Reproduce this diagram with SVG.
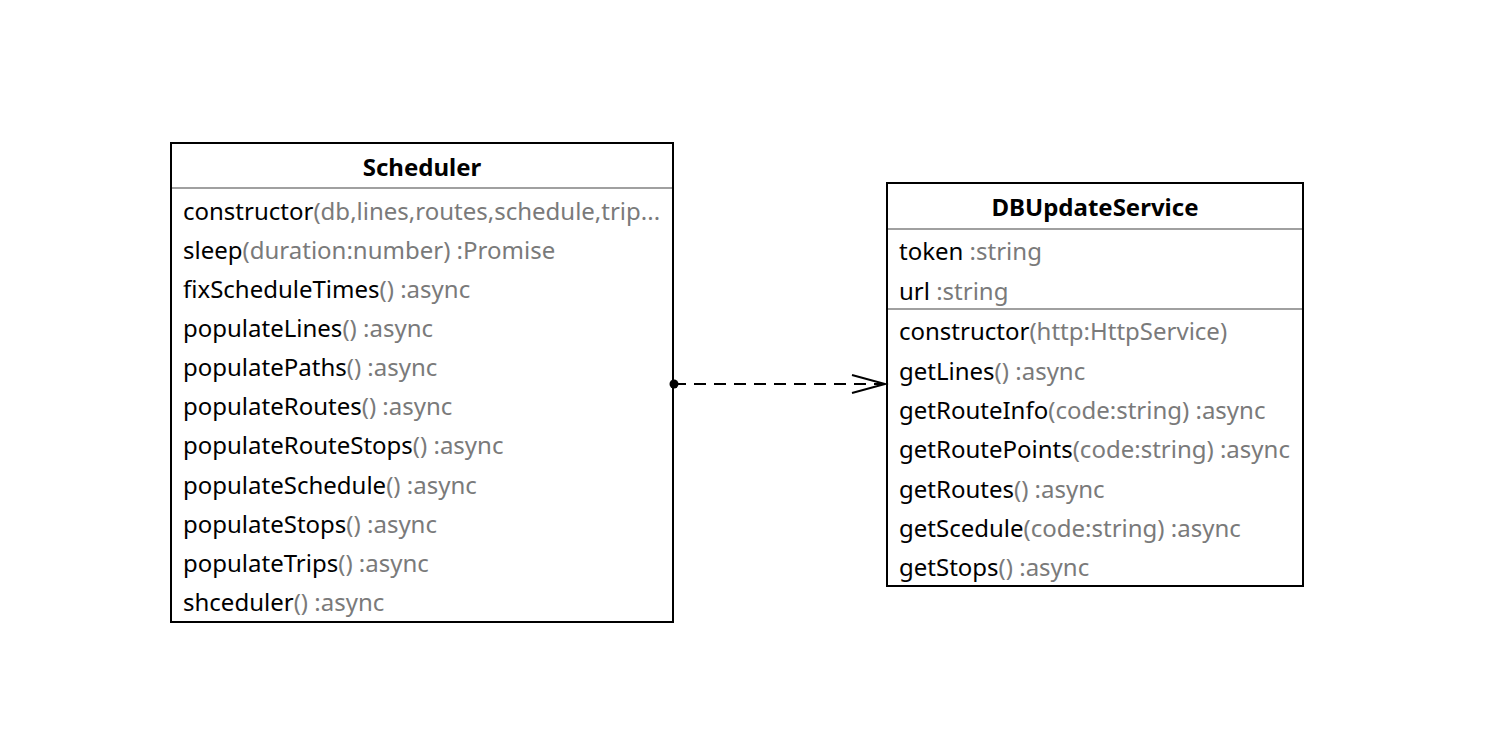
<svg xmlns="http://www.w3.org/2000/svg" width="1510" height="740" viewBox="0 0 1510 740">
<style>
.box{fill:#fff;stroke:#000;stroke-width:2}
.sep{stroke:#808080;stroke-width:1.5}
.t{font-family:"Noto Sans","Open Sans","Liberation Sans",sans-serif;font-size:24px;fill:#000}
.g{fill:#7a7a7a}
.h{font-family:"Noto Sans","Open Sans","Liberation Sans",sans-serif;font-size:24px;font-weight:bold;fill:#000;text-anchor:middle}
.c{stroke:#000;stroke-width:2;fill:none}
</style>
<rect width="1510" height="740" fill="#fff"/>
<g id="Scheduler">
<rect class="box" x="171" y="143" width="502" height="479"/>
<line class="sep" x1="172" y1="188" x2="672" y2="188"/>
<text class="h" x="422" y="176">Scheduler</text>
<text class="t" x="183" y="220">constructor<tspan class="g">(db,lines,routes,schedule,trip...</tspan></text>
<text class="t" x="183" y="259">sleep<tspan class="g">(duration:number) :Promise</tspan></text>
<text class="t" x="183" y="298">fixScheduleTimes<tspan class="g">() :async</tspan></text>
<text class="t" x="183" y="337">populateLines<tspan class="g">() :async</tspan></text>
<text class="t" x="183" y="376">populatePaths<tspan class="g">() :async</tspan></text>
<text class="t" x="183" y="415">populateRoutes<tspan class="g">() :async</tspan></text>
<text class="t" x="183" y="454">populateRouteStops<tspan class="g">() :async</tspan></text>
<text class="t" x="183" y="494">populateSchedule<tspan class="g">() :async</tspan></text>
<text class="t" x="183" y="533">populateStops<tspan class="g">() :async</tspan></text>
<text class="t" x="183" y="572">populateTrips<tspan class="g">() :async</tspan></text>
<text class="t" x="183" y="611">shceduler<tspan class="g">() :async</tspan></text>
</g>
<g id="DBUpdateService">
<rect class="box" x="887" y="183" width="416" height="403"/>
<line class="sep" x1="888" y1="229" x2="1302" y2="229"/>
<line class="sep" x1="888" y1="309" x2="1302" y2="309"/>
<text class="h" x="1095" y="216">DBUpdateService</text>
<text class="t" x="899" y="260">token<tspan class="g"> :string</tspan></text>
<text class="t" x="899" y="300">url<tspan class="g"> :string</tspan></text>
<text class="t" x="899" y="340">constructor<tspan class="g">(http:HttpService)</tspan></text>
<text class="t" x="899" y="380">getLines<tspan class="g">() :async</tspan></text>
<text class="t" x="899" y="419">getRouteInfo<tspan class="g">(code:string) :async</tspan></text>
<text class="t" x="899" y="458">getRoutePoints<tspan class="g">(code:string) :async</tspan></text>
<text class="t" x="899" y="498">getRoutes<tspan class="g">() :async</tspan></text>
<text class="t" x="899" y="537">getScedule<tspan class="g">(code:string) :async</tspan></text>
<text class="t" x="899" y="576">getStops<tspan class="g">() :async</tspan></text>
</g>
<g id="connectors">
<line class="c" x1="674" y1="384" x2="884" y2="384" stroke-dasharray="12 8"/>
<circle cx="674" cy="384" r="4.5" fill="#000"/>
<polyline class="c" points="852,375 885,384 852,393"/>
</g>
</svg>
